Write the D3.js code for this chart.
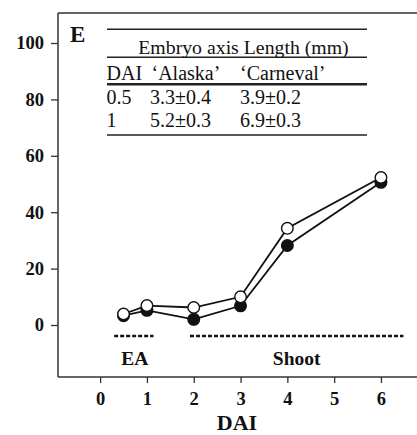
<!DOCTYPE html>
<html><head><meta charset="utf-8">
<script src="https://cdn.jsdelivr.net/npm/d3@7"></script>
<style>body{margin:0;background:#fff}svg{display:block}
svg text{font-family:"Liberation Serif","Times New Roman",Times,"DejaVu Serif",serif;}</style>
</head><body>
<script>
const days = [0.5, 1, 2, 3, 4, 6];
const alaska = [3.3, 5.2, 2.0, 6.8, 28.2, 50.6];
const carneval = [3.9, 6.9, 6.2, 10.0, 34.3, 52.3];
const alaskaErr = [0.4, 0.3, 0.3, 0.5, 0.8, 1.2];
const carnevalErr = [0.2, 0.3, 0.3, 0.5, 0.8, 0.8];
const xTicks = [0, 1, 2, 3, 4, 5, 6];
const yTicks = [0, 20, 40, 60, 80, 100];
const stages = [{label: "EA", from: 0.3, to: 1.14}, {label: "Shoot", from: 1.92, to: 6.48}];
const stageY = -3.9;
const tableTitle = "Embryo axis Length (mm)";
const tableHeader = ["DAI", "\u2018Alaska\u2019", "\u2018Carneval\u2019"];
const tableRows = [["0.5", "3.3\u00b10.4", "3.9\u00b10.2"], ["1", "5.2\u00b10.3", "6.9\u00b10.3"]];

const W = 417, H = 435;
const svg = d3.select("body").append("svg").attr("width", W).attr("height", H);

const x = d3.scaleLinear().domain([-0.9, 6.77]).range([58, 417]);
const y = d3.scaleLinear().domain([-18.44, 110.64]).range([377, 13]);

// frame
svg.append("line").attr("x1", 58).attr("x2", 417).attr("y1", 13).attr("y2", 13)
  .attr("stroke", "#333").attr("stroke-width", 1.5);

const yAxis = svg.append("g").attr("transform", "translate(58,0)")
  .call(d3.axisLeft(y).tickValues(yTicks).tickSize(7).tickPadding(7).tickSizeOuter(0));
const xAxis = svg.append("g").attr("transform", "translate(0,377)")
  .call(d3.axisBottom(x).tickValues(xTicks).tickSize(6).tickPadding(9).tickSizeOuter(0));
[yAxis, xAxis].forEach(g => {
  g.attr("font-family", null);
  g.select(".domain").attr("stroke", "#333").attr("stroke-width", 1.5);
  g.selectAll(".tick line").attr("stroke", "#333").attr("stroke-width", 1.3);
  g.selectAll("text").attr("font-weight", "bold")
    .attr("font-size", 18.5).attr("fill", "#111");
});
yAxis.select(".domain").attr("d", `M0,13V377`);
xAxis.select(".domain").attr("d", `M58,0H417`);

svg.append("text").attr("x", 237).attr("y", 430).attr("text-anchor", "middle")
  .attr("font-weight", "bold").attr("font-size", 22)
  .attr("fill", "#111").text("DAI");

svg.append("text").attr("x", 70).attr("y", 42)
  .attr("font-weight", "bold").attr("font-size", 23)
  .attr("fill", "#111").text("E");

// stage dashed lines
stages.forEach(s => {
  svg.append("line").attr("x1", x(s.from)).attr("x2", x(s.to))
    .attr("y1", y(stageY)).attr("y2", y(stageY))
    .attr("stroke", "#111").attr("stroke-width", 2.5).attr("stroke-dasharray", "4,2");
  svg.append("text").attr("x", (x(s.from) + x(s.to)) / 2 + (s.label === "EA" ? 1 : 0)).attr("y", 365)
    .attr("text-anchor", "middle").attr("font-weight", "bold")
    .attr("font-size", 19.5).attr("fill", "#111").text(s.label);
});

// series
const line = d3.line().x((d, i) => x(days[i])).y(d => y(d));
const series = [
  {vals: alaska, err: alaskaErr, fill: "#111"},
  {vals: carneval, err: carnevalErr, fill: "#fff"}
];
series.forEach(s => {
  svg.append("path").datum(s.vals).attr("d", line).attr("fill", "none")
    .attr("stroke", "#111").attr("stroke-width", 1.8);
});
series.forEach(s => {
  const g = svg.append("g");
  g.selectAll("line.err").data(s.vals).join("line")
    .attr("x1", (d, i) => x(days[i])).attr("x2", (d, i) => x(days[i]))
    .attr("y1", (d, i) => y(d - s.err[i])).attr("y2", (d, i) => y(d + s.err[i]))
    .attr("stroke", "#111").attr("stroke-width", 1.5);
  g.selectAll("circle").data(s.vals).join("circle")
    .attr("cx", (d, i) => x(days[i])).attr("cy", d => y(d)).attr("r", 5.8)
    .attr("fill", s.fill).attr("stroke", "#111").attr("stroke-width", 1.4);
});

// table
const tb = svg.append("g").attr("font-size", 20).attr("fill", "#111");
const tx0 = 107, tx1 = 367;
[[29.3, 1.6], [57.3, 1.4], [84.3, 2.6], [135, 1.6]].forEach(([yy, w]) => {
  tb.append("line").attr("x1", tx0).attr("x2", tx1).attr("y1", yy).attr("y2", yy)
    .attr("stroke", "#222").attr("stroke-width", w);
});
tb.append("text").attr("x", 243.5).attr("y", 54).attr("text-anchor", "middle")
  .attr("font-size", 19.8).text(tableTitle);
const colX = [106.5, 151.5, 240];
tableHeader.forEach((t, i) => tb.append("text").attr("x", colX[i]).attr("y", 79.5).text(t));
const colX2 = [106.5, 150, 240];
const rowY = [104, 127];
tableRows.forEach((r, j) => r.forEach((t, i) =>
  tb.append("text").attr("x", colX2[i]).attr("y", rowY[j]).text(t)));
</script>
</body></html>
